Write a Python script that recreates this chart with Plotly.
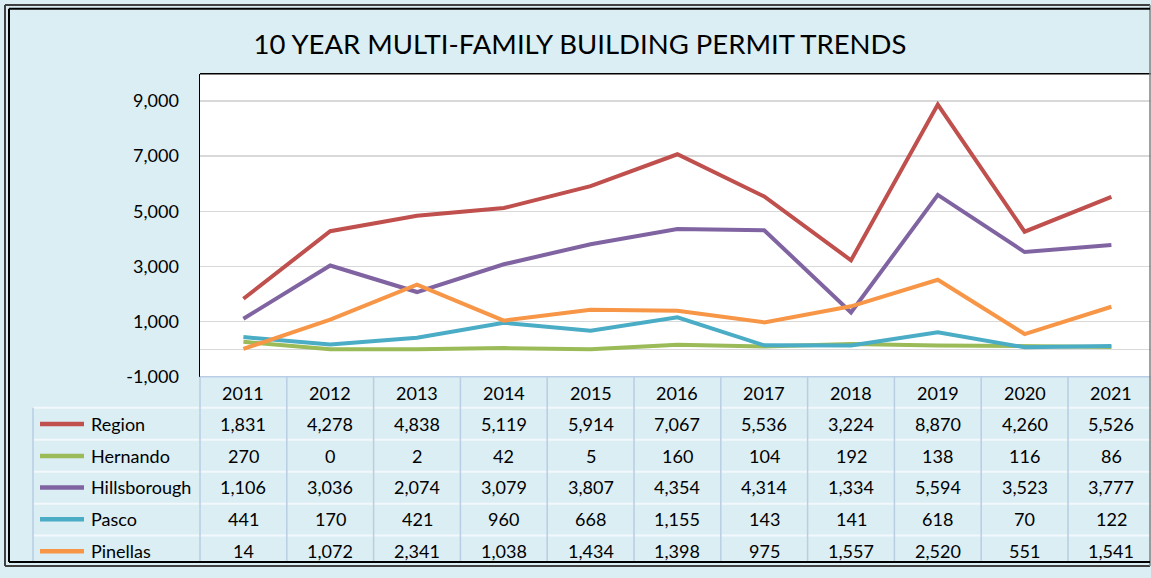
import plotly.graph_objects as go

years = ["2011", "2012", "2013", "2014", "2015", "2016", "2017", "2018", "2019", "2020", "2021"]
series_names = ["Region", "Hernando", "Hillsborough", "Pasco", "Pinellas"]
region = [1831, 4278, 4838, 5119, 5914, 7067, 5536, 3224, 8870, 4260, 5526]
hernando = [270, 0, 2, 42, 5, 160, 104, 192, 138, 116, 86]
hillsborough = [1106, 3036, 2074, 3079, 3807, 4354, 4314, 1334, 5594, 3523, 3777]
pasco = [441, 170, 421, 960, 668, 1155, 143, 141, 618, 70, 122]
pinellas = [14, 1072, 2341, 1038, 1434, 1398, 975, 1557, 2520, 551, 1541]
series_values = [region, hernando, hillsborough, pasco, pinellas]
colors = ["#C0504D", "#9BBB59", "#8064A2", "#4BACC6", "#F79646"]
y_ticks = [-1000, 1000, 3000, 5000, 7000, 9000]

W, H = 1151, 578
FONT = "Lato"
BG = "#DBEEF4"
GRIDV = "#B9CDE5"
GRIDH = "#F2F8FB"


def px(x):
    return x / W


def py(y):
    return 1 - y / H


plot_left, plot_top, plot_bottom = 200, 75, 383.5
col_w = 86.8
visible_cats = (W - plot_left) / col_w

fig = go.Figure()
for name, vals, c in zip(series_names, series_values, colors):
    fig.add_trace(go.Scatter(x=list(range(len(years))), y=vals, name=name, mode="lines",
                             line=dict(color=c, width=4), showlegend=False))

shapes = []
annotations = []
row_y = [400, 431.5, 464, 496, 528.5, 561]
row_lines = [383.5, 415, 447.5, 480, 512.5, 545]


def hline(x0, x1, y, color, width):
    shapes.append(dict(type="line", xref="paper", yref="paper", x0=px(x0), x1=px(x1),
                       y0=py(y), y1=py(y), line=dict(color=color, width=width)))


def vline(x, y0, y1, color, width):
    shapes.append(dict(type="line", xref="paper", yref="paper", x0=px(x), x1=px(x),
                       y0=py(y0), y1=py(y1), line=dict(color=color, width=width)))


for i, yl in enumerate(row_lines):
    if i == 0:
        hline(plot_left, W, yl, GRIDV, 1.5)
    else:
        hline(33, W, yl, GRIDH, 2)
for k in range(len(years) + 1):
    xv = plot_left + k * col_w
    if xv >= W:
        break
    vline(xv, 383.5, 572, GRIDV, 1.5)
vline(33, 415, 572, GRIDV, 1.5)

for k, yr in enumerate(years):
    annotations.append(dict(x=k, xref="x", y=py(row_y[0]), yref="paper", text=yr,
                            showarrow=False, xanchor="center", yanchor="middle",
                            font=dict(family=FONT, size=18, color="#000")))

for r, (name, vals, c) in enumerate(zip(series_names, series_values, colors)):
    yc = row_y[r + 1]
    hline(40, 84, yc, c, 4.5)
    annotations.append(dict(x=px(89), xref="paper", y=py(yc), yref="paper", text=name,
                            showarrow=False, xanchor="left", yanchor="middle",
                            font=dict(family=FONT, size=18, color="#000")))
    for k, v in enumerate(vals):
        annotations.append(dict(x=k, xref="x", y=py(yc), yref="paper", text=f"{v:,}",
                                showarrow=False, xanchor="center", yanchor="middle",
                                font=dict(family=FONT, size=18, color="#000")))

hline(plot_left, W, plot_top, "#000", 1.5)
hline(5, 1150, 5, "#404040", 2)
hline(5, 1150, 576, "#404040", 2)
vline(5, 5, 576, "#404040", 2)
vline(1150, 5, 576, "#808080", 1.5)
hline(9, 1150, 9, "#000", 2)
hline(9, 1150, 572, "#000", 2)
vline(9, 9, 572, "#000", 2)

fig.update_layout(
    width=W, height=H,
    margin=dict(l=0, r=0, t=0, b=0),
    paper_bgcolor=BG, plot_bgcolor="white",
    dragmode=False, hovermode=False,
    title=dict(text="10 YEAR MULTI-FAMILY BUILDING PERMIT TRENDS", x=px(580), y=py(45),
               xanchor="center", yanchor="middle", xref="paper", yref="paper",
               font=dict(family=FONT, size=27.5, color="#000")),
    xaxis=dict(domain=[px(plot_left), 1], range=[-0.5, -0.5 + visible_cats], fixedrange=True,
               showticklabels=False, showgrid=False, zeroline=False, showline=False, ticks=""),
    yaxis=dict(domain=[py(plot_bottom), py(plot_top)], range=[-1000, 9986], fixedrange=True,
               tickvals=y_ticks, ticktext=[f"{v:,}" for v in y_ticks], ticks="",
               ticklabelstandoff=16,
               tickfont=dict(family=FONT, size=18, color="#000"),
               showgrid=True, gridcolor="#D9D9D9", gridwidth=1.5,
               zeroline=True, zerolinecolor="#D9D9D9", zerolinewidth=1.5,
               showline=True, linecolor="#000", linewidth=1.5),
    shapes=shapes, annotations=annotations,
)

post = (
    "var gd=document.getElementById('{plot_id}');"
    "document.documentElement.style.overflow='hidden';"
    "document.body.style.margin='0';document.body.style.overflow='hidden';"
    "var w=gd.parentElement;w.style.position='fixed';w.style.left='0';w.style.top='0';"
    "w.style.width='1151px';w.style.height='578px';w.style.overflow='hidden';"
)
fig.write_html("out.html", config={"displayModeBar": False, "staticPlot": True},
               post_script=post)
